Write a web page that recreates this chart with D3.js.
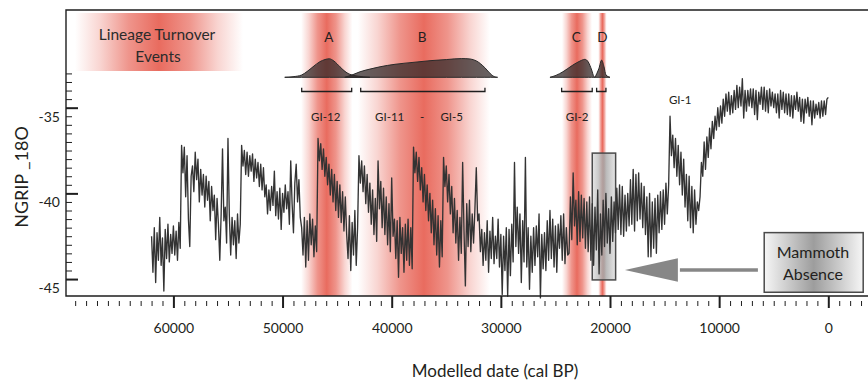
<!DOCTYPE html>
<html><head><meta charset="utf-8">
<script src="https://cdn.jsdelivr.net/npm/d3@7"></script>
<style>
body{margin:0;background:#fff}
svg{display:block}
text{font-family:Lato,"Open Sans",sans-serif;fill:#231f20}
</style>
</head><body><svg id="c" width="868" height="381"></svg>
<script>
// ---------------- DATA ----------------
const ngripStart = 62000;   // cal BP of first sample
const ngripStep = 125;      // years between samples
const ngripValues = [
// 62000 - 59375
-42.5,-44.6,-42.0,-45.2,-42.3,-43.9,-41.4,-44.2,-42.6,-45.7,-42.1,-43.8,-41.8,-44.0,-42.4,-43.5,-41.9,-43.6,-42.2,-43.9,-41.7,-43.2,
// 59250 - 53625
-37.2,-38.8,-37.3,-40.2,-37.8,-41.5,-43.1,-39.0,-38.4,-39.9,-37.6,-39.2,-38.0,-40.5,-38.6,-40.1,-38.9,-40.8,-39.0,-40.4,-39.3,-41.6,-39.6,-41.0,-40.1,-42.7,-40.3,-41.8,-43.9,-41.2,-37.4,-41.6,-40.8,-42.9,-36.8,-41.3,-43.6,-41.4,-43.0,-41.6,-43.8,-41.2,-42.9,-41.8,-37.2,-38.4,
// 53500 - 51625
-37.5,-38.9,-37.6,-39.0,-37.8,-38.7,-37.7,-39.3,-38.0,-39.1,-38.2,-39.6,-38.3,-39.8,-38.5,-40.2,
// 51500 - 48375
-39.5,-41.2,-39.8,-41.0,-39.6,-40.7,-38.7,-41.3,-39.9,-41.5,-39.7,-42.1,-40.0,-41.1,-39.5,-40.9,-39.9,-41.8,-38.1,-40.6,-42.3,-39.4,-38.3,-40.5,-39.2,-41.4,
// 48250 - 46875
-42.0,-43.6,-41.4,-44.3,-41.6,-43.9,-41.2,-43.0,-41.5,-43.7,-41.9,-43.4,
// 46750 - 44125
-36.8,-38.1,-37.1,-38.6,-37.4,-39.0,-37.9,-39.5,-38.3,-40.1,-38.6,-40.5,-38.9,-41.0,-39.3,-41.4,-39.5,-41.7,-39.9,-42.2,-40.2,-42.4,
// 44000 - 43125
-43.8,-41.3,-44.5,-41.7,-43.6,-41.0,-44.2,-42.0,
// 43000 - 38125
-37.8,-39.4,-38.1,-39.9,-38.4,-40.6,-38.9,-41.1,-39.4,-41.8,-39.8,-42.4,-40.3,-42.8,-38.1,-40.9,-39.3,-42.0,-39.7,-42.4,-40.2,-43.0,-40.6,-43.4,-39.1,-42.5,-41.5,-43.8,-41.6,-44.9,-41.4,-43.5,-42.0,-44.6,-41.8,-43.9,-41.5,-44.2,-42.0,-44.4,
// 38000 - 35375
-37.3,-38.8,-37.6,-39.3,-37.9,-39.8,-38.5,-40.5,-38.9,-41.0,-39.5,-41.6,-40.0,-42.3,-40.4,-43.0,-40.9,-43.6,-41.3,-44.3,-41.6,-43.7,
// 35250 - 32125
-37.9,-39.6,-38.4,-40.5,-38.9,-41.2,-39.6,-42.3,-40.3,-42.9,-41.0,-43.9,-41.4,-43.5,-38.2,-42.2,-45.4,-40.6,-43.1,-40.4,-43.4,-41.2,-42.9,-40.9,-38.5,-41.6,
// 32000 - 23875
-41.2,-43.4,-42.1,-44.2,-42.3,-43.9,-41.6,-44.6,-42.2,-43.8,
-41.4,-44.1,-42.5,-43.8,-41.5,-44.3,-42.4,-45.9,-42.5,-44.5,
-42.0,-46.0,-42.1,-44.8,-41.8,-44.0,-38.2,-43.1,-40.8,-43.5,
-41.2,-45.2,-41.6,-44.0,-37.9,-44.3,-42.0,-45.6,-42.5,-44.6,
-42.0,-44.2,-41.9,-43.7,-41.2,-46.1,-42.4,-44.4,-42.3,-44.5,
-41.6,-43.9,-41.0,-43.8,-41.5,-44.3,-41.9,-44.6,-41.8,-43.2,
-41.3,-43.9,-41.2,-44.1,-42.0,-43.6,
// 23750 - 22125
-43.5,-40.2,-42.7,-38.8,-41.9,-40.4,-43.0,-39.9,-42.8,-40.1,-42.6,-40.3,-43.2,-40.5,
// 22000 - 19625
-43.4,-40.2,-43.9,-40.6,-44.2,-40.8,-43.3,-39.8,-44.7,-41.2,-43.6,-40.4,-43.1,-40.0,-42.9,-40.9,-43.5,-40.2,-42.8,-40.5,
// 19500 - 14625
-42.3,-39.7,-42.1,-39.5,-42.4,-39.6,-42.5,-40.1,-42.2,-40.0,-41.9,-39.2,-41.8,-38.6,-42.2,-38.9,-41.6,-38.8,-41.5,-39.4,
-42.0,-39.6,-42.4,-40.2,-43.7,-40.0,-43.7,-40.5,-43.2,-40.3,-43.5,-40.1,-42.3,-39.9,-42.1,-39.8,-41.8,-39.4,-41.2,-39.5,
// 14500 - 11875
-35.5,-37.8,-36.6,-38.5,-36.8,-39.0,-37.2,-39.5,-37.6,-40.1,-38.0,-40.8,-38.9,-41.6,-39.0,-42.0,-39.6,-42.3,-39.8,-41.8,-40.5,-41.0,
// 11750 - 8625
-40.2,-38.2,-39.0,-37.0,-38.6,-36.7,-37.9,-36.2,-37.4,-35.8,-36.8,-35.5,-36.3,-35.0,-36.1,-34.9,-35.9,-34.5,-35.5,-34.2,-35.2,-34.1,-35.4,-34.3,-35.3,-34.0,
// 8500 - 7625
-35.1,-33.7,-35.0,-33.8,-34.9,-33.3,-35.6,-34.0,
// 7500 - 4125
-35.2,-34.0,-34.9,-33.9,-35.0,-33.9,-35.4,-34.0,-35.7,-34.1,-34.8,-33.8,-35.1,-33.8,-35.2,-34.0,-35.3,-33.9,-34.9,-34.1,-35.0,-34.2,-35.3,-34.2,-35.6,-34.0,-35.1,-34.1,
// 4000 - 0
-35.3,-34.2,-35.4,-34.2,-35.5,-34.3,-35.6,-34.3,-35.1,-34.1,-35.2,-34.4,-35.8,-34.5,-35.9,-34.5,-35.3,-34.4,-35.5,-34.6,-36.0,-34.6,-35.6,-34.8,-35.4,-34.7,-35.6,-34.6,-35.5,-34.6,-35.4,-34.5,-34.4
];

const eventNames = ["A","B","C","D"];
const eventLabelDates = [45763, 37208, 23093, 20692];
const eventBands = [[48300,43600],[43100,31000],[24400,21650],[21080,20300]];
const eventBrackets = [[48246,43666],[42841,31456],[24431,21628],[21225,20372]];
const densityA = [[49800,0],[49040,0.03],[48250,0.12],[47760,0.3],[47210,0.55],[46570,0.82],[46110,0.93],[45720,0.97],[45290,0.85],[44740,0.55],[44370,0.35],[44000,0.2],[43640,0.12],[43090,0.06],[42000,0]];
const densityB = [[44300,0],[43640,0.12],[42900,0.29],[41990,0.43],[41070,0.55],[39700,0.68],[38050,0.78],[36490,0.87],[34960,0.93],[33590,0.98],[32830,0.96],[32220,0.85],[31460,0.5],[30930,0.17],[30540,0.02],[30300,0]];
const densityC = [[25500,0],[24950,0.1],[24310,0.29],[23400,0.64],[22750,0.85],[22300,0.94],[21990,0.8],[21680,0.38],[21470,0.03],[21380,0]];
const densityD = [[21380,0],[21010,0.47],[20770,0.9],[20550,0.55],[20370,0.12],[20000,0]];
const densities = [densityA, densityB, densityC, densityD];

const giNames = ["GI-12","GI-11","-","GI-5","GI-2","GI-1"];
const giDates = [46047, 40186, 37200, 34497, 23010, 13566];
const giValues = [-35.8,-35.8,-35.8,-35.8,-35.8,-34.8];

const absenceDates = [21627, 19484];
const absenceValues = [-37.65, -45.05];

const xMajorTicks = [60000,50000,40000,30000,20000,10000,0];
const xTickLabels = ["60000","50000","40000","30000","20000","10000","0"];
const yMajorTicks = [-35,-40,-45];
const yTickLabels = ["-35","-40","-45"];

// ---------------- LAYOUT ----------------
const W = 868, H = 381;
const frameL = 66, frameT = 10, frameB = 296;
const svg = d3.select("#c");
const defs = svg.append("defs");

const x = d3.scaleLinear().domain([60000, 0]).range([173.4, 828.3]);
const y = d3.scaleLinear().domain([-46, -29.3]).range([296.2, 10]);
const dens = d3.scaleLinear().domain([0, 1]).range([77.3, 58.2]);

// gradients
function redGrad(id){
  const g = defs.append("linearGradient").attr("id", id).attr("x1","0").attr("x2","1").attr("y1","0").attr("y2","0");
  [[0,0],[0.15,0.28],[0.32,0.7],[0.5,0.97],[0.68,0.7],[0.85,0.28],[1,0]].forEach(s=>
    g.append("stop").attr("offset", s[0]).attr("stop-color","#e8675a").attr("stop-opacity", s[1]));
}
redGrad("redband");
function grayGrad(id, edge, mid){
  const g = defs.append("linearGradient").attr("id", id).attr("x1","0").attr("x2","1").attr("y1","0").attr("y2","0");
  g.append("stop").attr("offset",0).attr("stop-color",edge);
  g.append("stop").attr("offset",0.5).attr("stop-color",mid);
  g.append("stop").attr("offset",1).attr("stop-color",edge);
}
grayGrad("grayLabel", "#f6f6f6", "#9d9d9d");
grayGrad("grayBox", "#e2e2e2", "#a2a2a2");

// legend band
svg.append("rect").attr("x", 75).attr("y", 13).attr("width", 168).attr("height", 58)
  .attr("fill", "url(#redband)");
svg.append("text").attr("x", 157).attr("y", 39.5).attr("text-anchor","middle")
  .style("font-size","15.5px").style("fill","#2b2b2b").text("Lineage Turnover");
svg.append("text").attr("x", 158).attr("y", 62).attr("text-anchor","middle")
  .style("font-size","15.5px").style("fill","#2b2b2b").text("Events");

// red event bands
svg.append("g").selectAll("rect").data(eventBands).join("rect")
  .attr("x", d => x(d[0])).attr("width", d => x(d[1]) - x(d[0]))
  .attr("y", 13).attr("height", frameB - 13)
  .attr("fill", "url(#redband)");

// densities
const area = d3.area().x(d => x(d[0])).y0(dens(0)).y1(d => dens(d[1])).curve(d3.curveMonotoneX);
svg.append("g").selectAll("path").data(densities).join("path")
  .attr("d", area)
  .attr("fill", "rgba(45,38,38,0.72)")
  .attr("stroke", "#2a2a2a").attr("stroke-width", 1);

// brackets
const bY = 91.5, bH = 3.8;
svg.append("g").selectAll("path").data(eventBrackets).join("path")
  .attr("d", d => `M${x(d[0])},${bY-bH}V${bY}H${x(d[1])}V${bY-bH}`)
  .attr("fill","none").attr("stroke","#1e1e1e").attr("stroke-width",1.3);

// event letters
svg.append("g").selectAll("text").data(eventNames).join("text")
  .attr("x", (d,i) => x(eventLabelDates[i])).attr("y", 42.3)
  .attr("text-anchor","middle").style("font-size","13.5px").text(d => d);

// GI labels
svg.append("g").selectAll("text").data(giNames).join("text")
  .attr("x", (d,i) => x(giDates[i])).attr("y", (d,i) => y(giValues[i]))
  .attr("text-anchor","middle").style("font-size","11.5px").text(d => d);

// mammoth absence box (behind line)
svg.append("rect")
  .attr("x", x(absenceDates[0])).attr("width", x(absenceDates[1]) - x(absenceDates[0]))
  .attr("y", y(absenceValues[0])).attr("height", y(absenceValues[1]) - y(absenceValues[0]))
  .attr("fill", "url(#grayBox)").attr("fill-opacity", 0.85)
  .attr("stroke", "#4a4a4a").attr("stroke-width", 1.5);

// NGRIP series
const series = ngripValues.map((v,i) => ({date: ngripStart - i*ngripStep, v}));
svg.append("path").datum(series)
  .attr("d", d3.line().x(d => x(d.date)).y(d => y(d.v)))
  .attr("fill","none").attr("stroke","#333").attr("stroke-width",1.35)
  .attr("stroke-linejoin","round");

// frame
svg.append("path")
  .attr("d", `M${W},${frameT}H${frameL}V${frameB}H${W}`)
  .attr("fill","none").attr("stroke","#1e1e1e").attr("stroke-width",1.4);

// x axis: minor ticks
const xMinor = d3.range(69000, -3001, -1000).filter(v => v % 10000 !== 0);
const gxMinor = svg.append("g").attr("transform", `translate(0,301)`)
  .call(d3.axisBottom(x).tickValues(xMinor).tickSize(5).tickFormat(""));
gxMinor.select(".domain").remove();
gxMinor.selectAll("line").attr("stroke","#1e1e1e").attr("stroke-width",1);

const gxMajor = svg.append("g").attr("transform", `translate(0,${frameB})`)
  .call(d3.axisBottom(x).tickValues(xMajorTicks).tickSize(12).tickPadding(15)
    .tickFormat((d,i) => xTickLabels[i]));
gxMajor.select(".domain").remove();
gxMajor.selectAll("line").attr("stroke","#1e1e1e").attr("stroke-width",2);
gxMajor.selectAll("text").style("font-size","14px").style("font-family","Lato,sans-serif").attr("fill","#231f20");

// y axis: ticks inside the frame
const yMinor = d3.range(-45, -32.9, 0.5).filter(v => v % 5 !== 0);
const gyMinor = svg.append("g").attr("transform", `translate(${frameL},0)`)
  .call(d3.axisRight(y).tickValues(yMinor).tickSize(6).tickFormat(""));
gyMinor.select(".domain").remove();
gyMinor.selectAll("line").attr("stroke","#1e1e1e").attr("stroke-width",1);
const gyMajor = svg.append("g").attr("transform", `translate(${frameL},0)`)
  .call(d3.axisRight(y).tickValues(yMajorTicks).tickSize(12).tickFormat(""));
gyMajor.select(".domain").remove();
gyMajor.selectAll("line").attr("stroke","#1e1e1e").attr("stroke-width",2);
svg.append("g").selectAll("text").data(yMajorTicks).join("text")
  .attr("x", 60).attr("y", d => y(d) + 14).attr("text-anchor","end")
  .style("font-size","14px").text((d,i) => yTickLabels[i]);

// axis titles
svg.append("text").attr("x", 495).attr("y", 377).attr("text-anchor","middle")
  .style("font-size","17px").text("Modelled date (cal BP)");
svg.append("text").attr("transform","translate(28,177) rotate(-90)").attr("text-anchor","middle")
  .style("font-size","18px").text("NGRIP _18O");

// Mammoth Absence label + arrow
const arrowFrom = 6449, arrowBase = 13779, arrowTip = 18634, arrowValue = -44.47, arrowHalf = 0.69;
svg.append("line")
  .attr("x1", x(arrowFrom)).attr("x2", x(arrowBase)+2).attr("y1", y(arrowValue)).attr("y2", y(arrowValue))
  .attr("stroke","#878787").attr("stroke-width",3.5);
svg.append("path")
  .attr("d", `M${x(arrowTip)},${y(arrowValue)}L${x(arrowBase)},${y(arrowValue+arrowHalf)}L${x(arrowBase)},${y(arrowValue-arrowHalf)}Z`)
  .attr("fill","#878787");
const labelDates = [5872, -3197], labelValues = [-42.29, -45.77];
svg.append("rect")
  .attr("x", x(labelDates[0])).attr("width", x(labelDates[1]) - x(labelDates[0]))
  .attr("y", y(labelValues[0])).attr("height", y(labelValues[1]) - y(labelValues[0]))
  .attr("fill","url(#grayLabel)").attr("stroke","#4a4a4a").attr("stroke-width",1.5);
svg.append("text").attr("x", 813).attr("y", 257.5).attr("text-anchor","middle")
  .style("font-size","16px").text("Mammoth");
svg.append("text").attr("x", 813).attr("y", 279.5).attr("text-anchor","middle")
  .style("font-size","16px").text("Absence");
</script>
</body></html>
